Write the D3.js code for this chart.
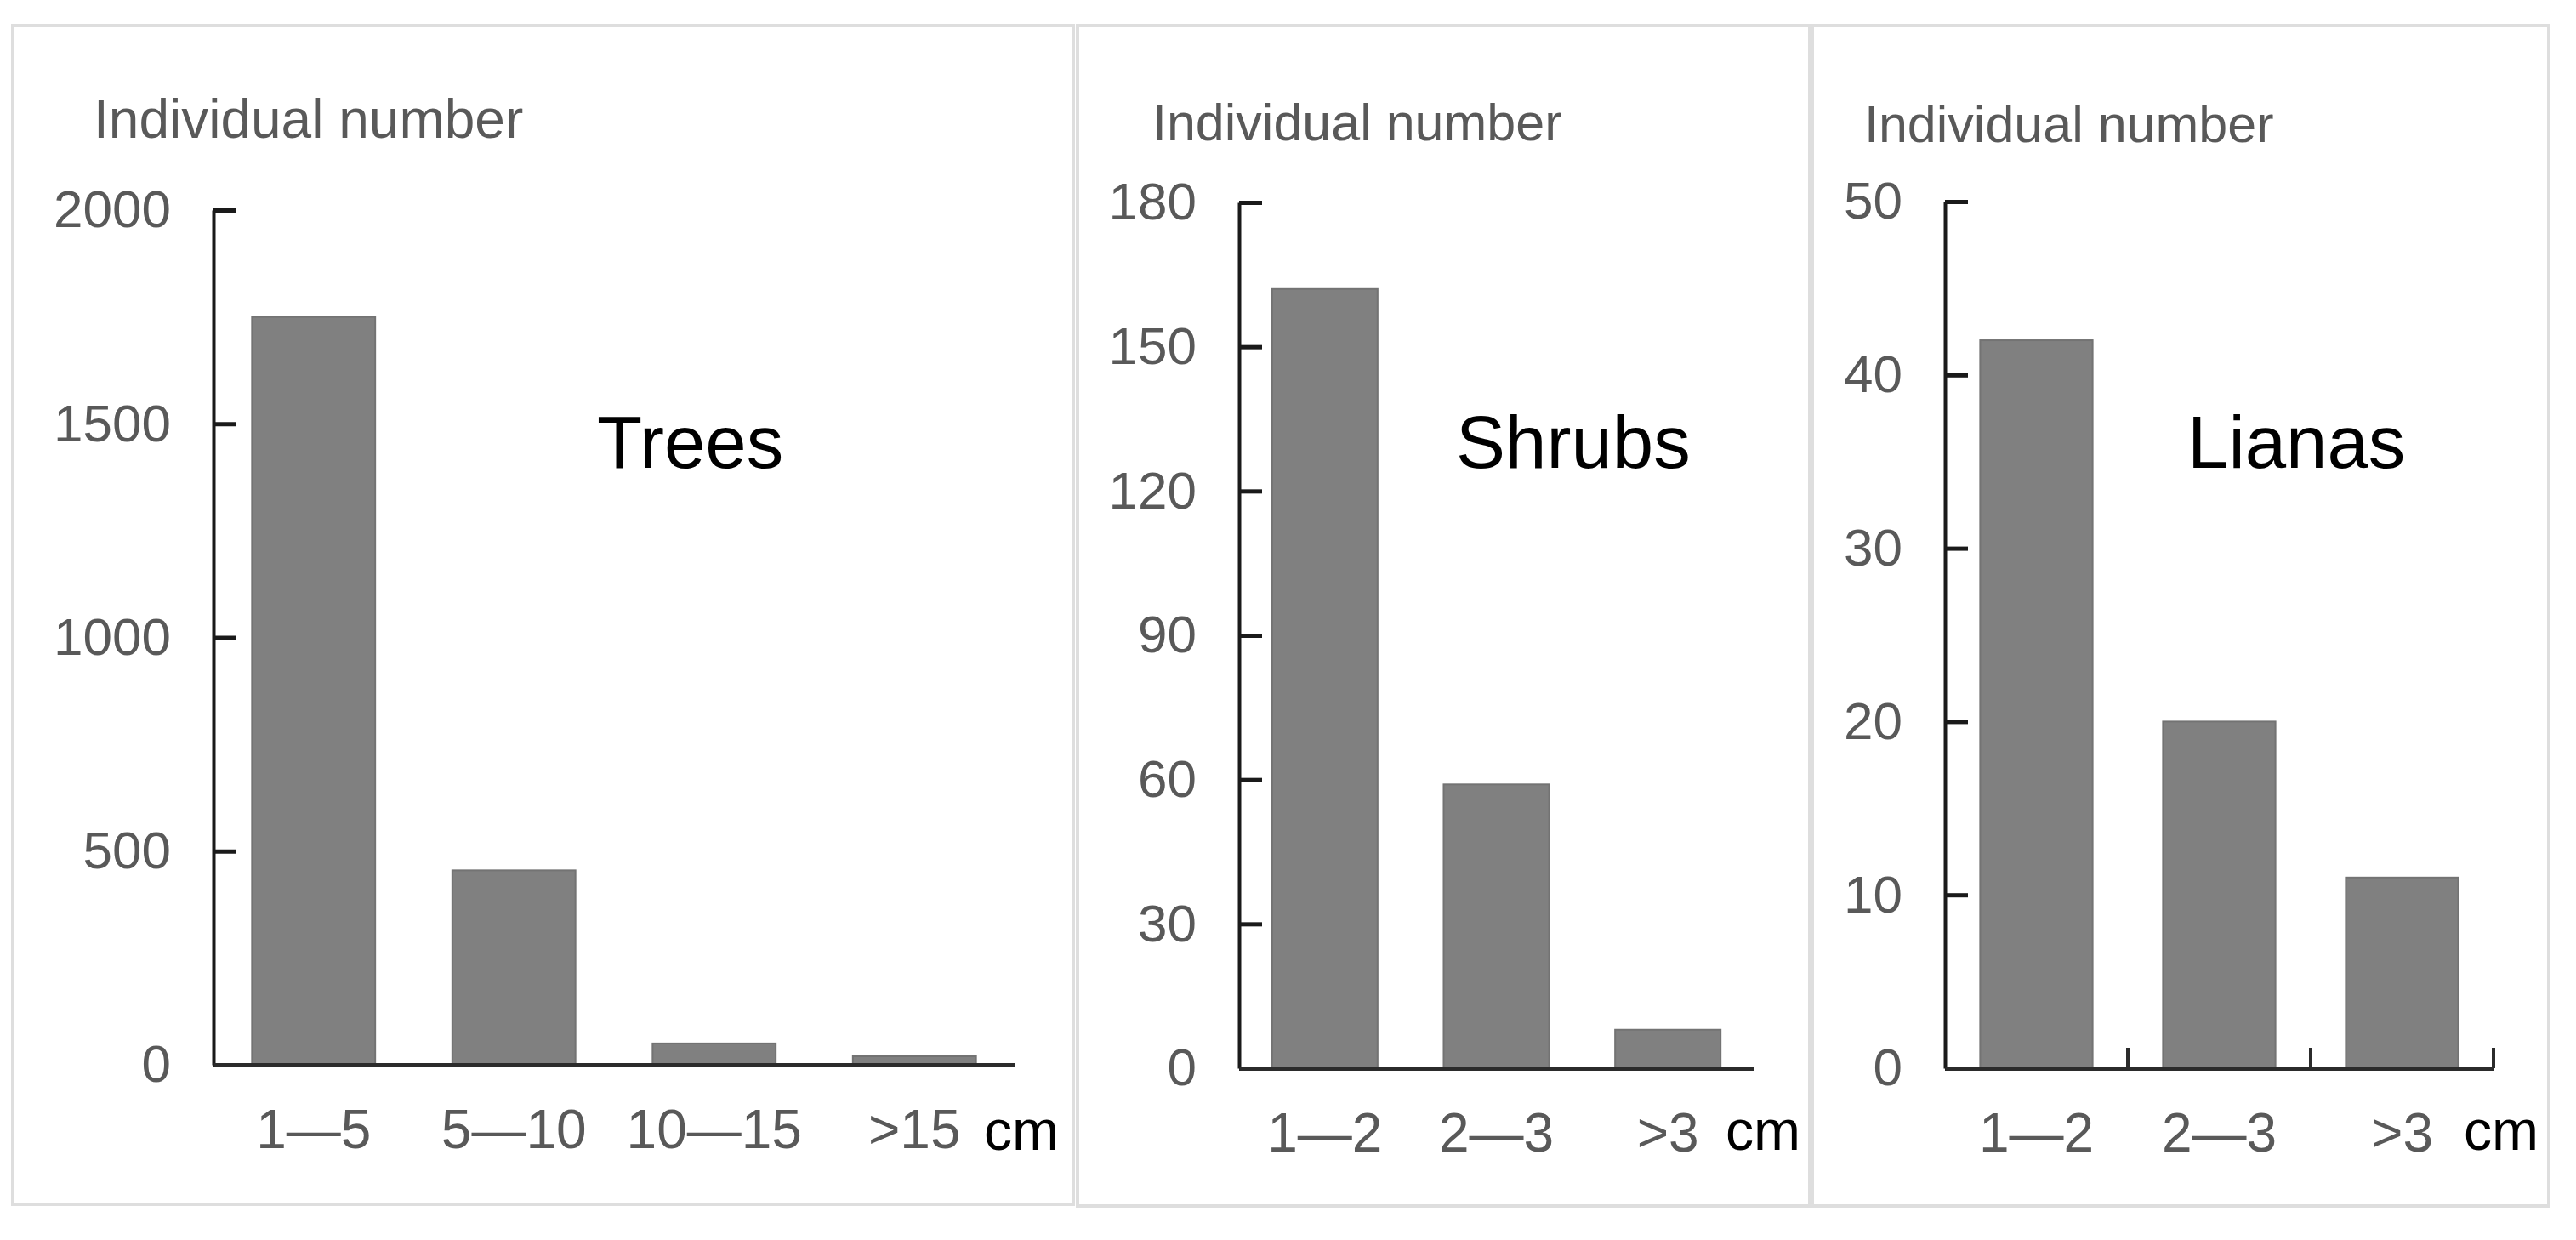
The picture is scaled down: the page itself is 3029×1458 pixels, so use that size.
<!DOCTYPE html>
<html>
<head>
<meta charset="utf-8">
<script src="https://cdn.jsdelivr.net/npm/d3@7"></script>
<style>
    html, body { margin: 0; padding: 0; background: #fff; }
    svg { display: block; font-family: "Liberation Sans", Arial, sans-serif; }
</style>
</head>
<body>
<div id="chart"></div>
<script>
// diameter classes and individual counts
const treeClasses = ['1\u20145', '5\u201410', '10\u201415', '>15'];
const treeCounts = [1750, 455, 50, 20];
const treeTicks = [0, 500, 1000, 1500, 2000];

const shrubClasses = ['1\u20142', '2\u20143', '>3'];
const shrubCounts = [162, 59, 8];
const shrubTicks = [0, 30, 60, 90, 120, 150, 180];

const lianaClasses = ['1\u20142', '2\u20143', '>3'];
const lianaCounts = [42, 20, 11];
const lianaTicks = [0, 10, 20, 30, 40, 50];

const yLabel = 'Individual number';
const unit = 'cm';

const width = 3029, height = 1458;

const svg = d3.select('#chart')
    .append('svg')
        .attr('width', width)
        .attr('height', height);

const panels = [
    {
        title: 'Trees', classes: treeClasses, counts: treeCounts, ticks: treeTicks,
        box: [15, 30, 1262, 1416],
        axisX: 251, axisEnd: 1193, top: 247, zero: 1252,
        labelX: 110, labelY: 162, labelSize: 64,
        titleX: 702, unitX: 1157, classTicks: false
    },
    {
        title: 'Shrubs', classes: shrubClasses, counts: shrubCounts, ticks: shrubTicks,
        box: [1267, 30, 2128, 1418],
        axisX: 1457, axisEnd: 2062, top: 238, zero: 1256,
        labelX: 1355, labelY: 165, labelSize: 61,
        titleX: 1712, unitX: 2029, classTicks: false
    },
    {
        title: 'Lianas', classes: lianaClasses, counts: lianaCounts, ticks: lianaTicks,
        box: [2131, 30, 2997, 1418],
        axisX: 2287, axisEnd: 2932, top: 237, zero: 1256,
        labelX: 2192, labelY: 167, labelSize: 61,
        titleX: 2572, unitX: 2897, classTicks: true
    }
];

function drawPanel(p) {
    const g = svg.append('g');

    // panel frame
    g.append('rect')
        .attr('x', p.box[0])
        .attr('y', p.box[1])
        .attr('width', p.box[2] - p.box[0])
        .attr('height', p.box[3] - p.box[1])
        .attr('fill', 'none')
        .attr('stroke', '#dedede')
        .attr('stroke-width', 4);

    const x = d3.scaleBand()
        .domain(p.classes)
        .range([p.axisX, p.axisEnd])
        .paddingInner(0.385)
        .paddingOuter(0.1925);

    const y = d3.scaleLinear()
        .domain([0, d3.max(p.ticks)])
        .range([p.zero, p.top]);

    // bars
    g.append('g')
        .selectAll('rect')
        .data(p.counts)
        .enter()
        .append('rect')
            .attr('x', (d, i) => x(p.classes[i]))
            .attr('y', d => y(d))
            .attr('width', x.bandwidth())
            .attr('height', d => y(0) - y(d))
            .attr('fill', '#808080')
            .attr('stroke', '#737373')
            .attr('stroke-width', 2);

    // y axis, ticks pointing inwards
    const yAxis = g.append('g')
        .attr('transform', `translate(${p.axisX},0)`)
        .call(d3.axisLeft(y)
            .tickValues(p.ticks)
            .tickSizeInner(-27)
            .tickSizeOuter(0)
            .tickPadding(50)
            .tickFormat(d3.format('d')));
    yAxis.select('.domain').attr('stroke', '#1a1a1a').attr('stroke-width', 4);
    yAxis.selectAll('.tick line').attr('stroke', '#1a1a1a').attr('stroke-width', 5);
    yAxis.selectAll('.tick text')
        .attr('fill', '#595959')
        .attr('font-size', 62)
        .attr('font-family', '"Liberation Sans", Arial, sans-serif');

    // x axis
    const xAxis = g.append('g')
        .attr('transform', `translate(0,${p.zero})`)
        .call(d3.axisBottom(x)
            .tickSize(0)
            .tickPadding(53));
    xAxis.select('.domain').attr('stroke', '#2b2b2b').attr('stroke-width', 5);
    xAxis.selectAll('.tick text')
        .attr('fill', '#595959')
        .attr('font-size', 64)
        .attr('font-family', '"Liberation Sans", Arial, sans-serif');

    // class boundary ticks (only on the lianas panel)
    if (p.classTicks) {
        const step = x.step();
        g.append('g')
            .selectAll('line')
            .data(p.classes)
            .enter()
            .append('line')
                .attr('x1', d => x(d) + x.bandwidth() + (step - x.bandwidth()) / 2)
                .attr('x2', d => x(d) + x.bandwidth() + (step - x.bandwidth()) / 2)
                .attr('y1', p.zero)
                .attr('y2', p.zero - 24)
                .attr('stroke', '#2b2b2b')
                .attr('stroke-width', 4);
    }

    g.append('text')
        .attr('x', p.unitX)
        .attr('y', 1352)
        .attr('font-size', 66)
        .attr('fill', '#000')
        .text(unit);

    g.append('text')
        .attr('x', p.labelX)
        .attr('y', p.labelY)
        .attr('font-size', p.labelSize)
        .attr('fill', '#595959')
        .text(yLabel);

    g.append('text')
        .attr('x', p.titleX)
        .attr('y', 550)
        .attr('font-size', 87)
        .attr('fill', '#000')
        .text(p.title);
}

panels.forEach(drawPanel);
</script>
</body>
</html>
